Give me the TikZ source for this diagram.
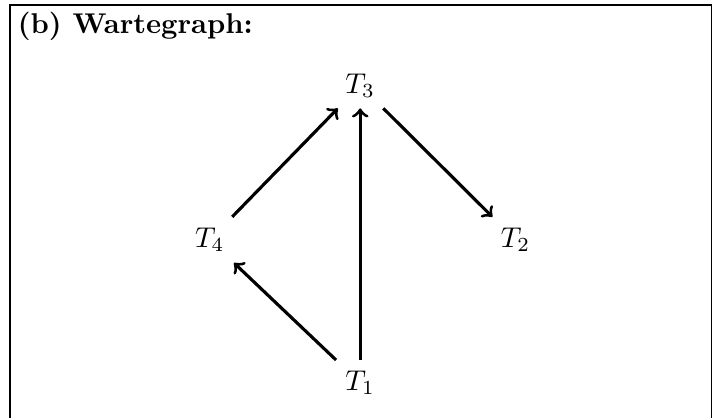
\documentclass[tikz,border=0pt]{standalone}
\usepackage{amsmath}
\usepackage{tikz}

\begin{document}
\begin{tikzpicture}[line width=1.1pt]
    \useasboundingbox (0,0) rectangle (8.83,5.13);
    \draw[line width=0.6pt] (0.12,-0.3) -- (0.12,5.07) -- (8.75,5.07) -- (8.75,-0.3);
    \node[anchor=base west, inner sep=0pt] (title) at (0.2,4.72) {\textbf{(b) Wartegraph:}};
    \node (t3) at (4.43,4.08) {$T_3$};
    \node (t4) at (2.58,2.18) {$T_4$};
    \node (t2) at (6.34,2.18) {$T_2$};
    \node (t1) at (4.43,0.42) {$T_1$};
    \draw[->] (t4) -- (t3);
    \draw[->] (t1) -- (t3);
    \draw[->] (t3) -- (t2);
    \draw[->] (t1) -- (t4);
\end{tikzpicture}
\end{document}
